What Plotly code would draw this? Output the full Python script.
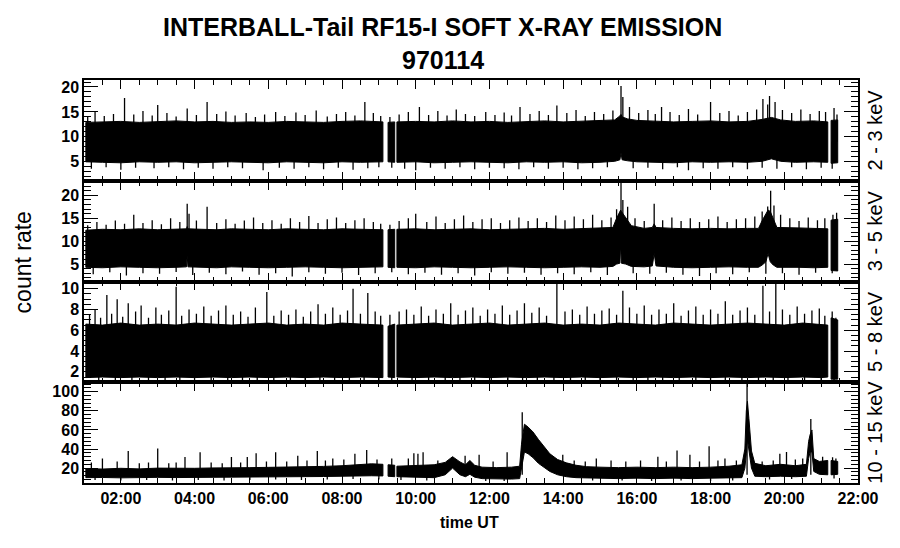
import plotly.graph_objects as go
from plotly.subplots import make_subplots

# x axis: hours UT
hour_ticks = [2, 4, 6, 8, 10, 12, 14, 16, 18, 20, 22]
hour_labels = ["02:00", "04:00", "06:00", "08:00", "10:00", "12:00",
               "14:00", "16:00", "18:00", "20:00", "22:00"]
channels = ["2 - 3 keV", "3 - 5 keV", "5 - 8 keV", "10 - 15 keV"]

# ---- 2-3 keV: band envelope (None = data gap) and single spikes
t1 = [1.05, 1.5, 2.0, 2.5, 3.0, 3.5, 4.0, 4.5, 5.0, 5.5, 6.0, 6.5, 7.0, 7.5, 8.0, 8.5, 9.11, None,
      9.25, 9.43, None,
      9.49, 10.0, 10.5, 11.0, 11.5, 12.0, 12.5, 13.0, 13.5, 14.0, 14.5, 15.0, 15.4, 15.54, 15.57, 15.6,
      15.75, 16.0, 16.5, 17.0, 17.5, 18.0, 18.5, 19.0, 19.4, 19.65, 19.9, 20.3, 20.8, 21.18, None,
      21.27, 21.45]
hi1 = [12.9, 13.0, 13.1, 12.9, 13.1, 13.2, 13.0, 13.1, 12.9, 13.0, 12.9, 13.1, 13.0, 12.9, 13.1, 13.2, 13.0, None,
       12.9, 13.0, None,
       13.0, 13.1, 13.0, 13.2, 13.0, 13.1, 12.9, 13.1, 13.2, 13.0, 13.1, 13.2, 13.4, 14.2, 14.5, 14.0,
       13.6, 13.3, 13.1, 13.0, 13.1, 13.2, 13.0, 13.1, 13.5, 13.9, 13.4, 13.1, 13.2, 13.0, None,
       13.3, 13.4]
lo1 = [5.0, 4.9, 4.8, 5.0, 4.9, 5.0, 4.8, 4.9, 5.0, 4.9, 4.8, 5.0, 4.9, 4.8, 5.0, 4.9, 5.0, None,
       5.0, 4.9, None,
       4.9, 5.0, 4.8, 4.9, 5.0, 4.9, 4.8, 5.0, 4.9, 5.0, 4.8, 4.9, 5.1, 5.4, 6.8, 5.4,
       5.2, 5.0, 4.9, 4.8, 5.0, 4.9, 5.0, 4.9, 5.1, 5.6, 5.1, 4.9, 5.0, 4.9, None,
       4.7, 4.8]
up1_t = [1.1, 1.3, 1.55, 1.8, 2.1, 2.35, 2.6, 2.85, 3.0, 3.25,
         3.5, 3.8, 4.05, 4.34, 4.6, 4.85, 5.1, 5.4, 5.65, 5.9,
         6.2, 6.45, 6.75, 7.0, 7.3, 7.6, 7.85, 8.1, 8.35, 8.62,
         8.85, 9.05, 9.3, 9.55, 9.8, 10.1, 10.35, 10.6, 10.85, 11.1,
         11.35, 11.6, 11.9, 12.15, 12.4, 12.6, 12.83, 13.1, 13.35, 13.6,
         13.83, 14.1, 14.35, 14.6, 14.85, 15.1, 15.35, 15.57, 15.62, 15.8,
         16.05, 16.3, 16.5, 16.67, 16.9, 17.15, 17.4, 17.65, 18.0, 18.25,
         18.5, 18.75, 19.0, 19.25, 19.42, 19.55, 19.6, 19.75, 19.95, 20.2,
         20.45, 20.7, 20.95, 21.12, 21.35, 21.43]
up1_v = [14.0, 15.0, 14.2, 14.6, 17.8, 14.5, 15.2, 14.3, 16.4, 14.8,
         14.1, 15.7, 14.4, 17.0, 14.6, 15.1, 14.3, 14.8, 14.0, 14.5,
         15.0, 14.2, 14.9, 14.4, 15.3, 14.1, 14.6, 15.0, 14.3, 17.0,
         14.8, 14.2, 14.0, 14.5, 15.0, 16.0, 14.4, 15.2, 14.3, 15.5,
         14.6, 14.2, 15.0, 14.4, 14.9, 14.3, 16.0, 14.6, 15.2, 14.4,
         16.3, 14.8, 15.4, 14.2, 15.0, 14.6, 15.3, 20.2, 18.0, 16.0,
         14.8, 15.4, 14.6, 16.0, 15.0, 14.4, 15.6, 14.5, 17.0, 14.8,
         15.2, 14.3, 15.0, 15.5, 17.6, 16.5, 18.2, 17.0, 15.4, 14.8,
         15.5, 14.6, 15.2, 15.0, 15.8, 14.5]
dn1_t = [1.2, 1.6, 2.0, 2.4, 2.9, 3.3, 3.7, 4.1, 4.5, 4.9,
         5.3, 5.86, 6.3, 6.7, 7.1, 7.5, 7.9, 8.3, 8.7, 9.0,
         9.35, 9.7, 10.0, 10.4, 10.8, 11.2, 11.6, 12.0, 12.4, 12.8,
         13.2, 13.6, 14.0, 14.4, 14.8, 15.2, 15.9, 16.3, 16.7, 17.1,
         17.4, 17.8, 18.2, 18.6, 19.0, 19.4, 19.8, 20.2, 20.6, 21.0, 21.3]
dn1_v = [3.6, 3.9, 3.4, 3.8, 3.7, 3.9, 3.5, 3.8, 3.6, 3.9,
         3.7, 3.3, 3.8, 3.6, 3.9, 3.5, 3.8, 3.4, 3.7, 3.9,
         3.8, 3.6, 3.3, 3.8, 3.6, 3.9, 3.5, 3.8, 3.7, 3.5,
         3.9, 3.6, 3.8, 3.5, 3.7, 3.9, 3.7, 3.8, 3.5, 3.9,
         3.3, 3.7, 3.6, 3.9, 3.5, 3.8, 3.6, 3.9, 3.5, 3.8, 3.6]

# ---- 3-5 keV
t2 = [1.05, 1.5, 2.0, 2.5, 3.0, 3.5, 3.78, 3.8, 3.82, 4.2, 4.6, 5.0, 5.5, 6.0, 6.5, 7.0, 7.5, 8.0, 8.5, 9.11, None,
      9.25, 9.43, None,
      9.49, 10.0, 10.5, 11.0, 11.5, 12.0, 12.5, 13.0, 13.5, 14.0, 14.5, 15.0, 15.35, 15.45, 15.54, 15.56, 15.58,
      15.7, 15.85, 16.2, 16.42, 16.47, 16.52, 17.0, 17.5, 18.0, 18.5, 19.0, 19.3, 19.4, 19.5, 19.56, 19.62,
      19.7, 19.8, 20.4, 20.8, 21.18, None,
      21.27, 21.45]
hi2 = [12.4, 12.6, 12.5, 12.7, 12.5, 12.6, 12.7, 13.2, 12.7, 12.6, 12.5, 12.7, 12.6, 12.5, 12.7, 12.6, 12.5, 12.7, 12.6, 12.5, None,
       12.5, 12.6, None,
       12.6, 12.7, 12.5, 12.6, 12.7, 12.5, 12.6, 12.7, 12.8, 12.6, 12.7, 12.8, 13.0, 15.0, 16.5, 16.8, 16.5,
       15.2, 13.4, 12.8, 13.0, 13.8, 13.0, 12.8, 12.7, 12.8, 12.7, 12.8, 12.8, 14.5, 16.0, 16.8, 16.5,
       15.0, 13.0, 12.9, 12.8, 12.7, None,
       14.6, 14.8]
lo2 = [4.3, 4.2, 4.4, 4.3, 4.2, 4.3, 4.4, 6.9, 4.4, 4.3, 4.2, 4.4, 4.3, 4.2, 4.3, 4.4, 4.3, 4.2, 4.3, 4.4, None,
       4.3, 4.2, None,
       4.3, 4.2, 4.4, 4.3, 4.2, 4.3, 4.4, 4.3, 4.2, 4.3, 4.4, 4.3, 4.5, 5.0, 5.2, 9.6, 5.2,
       5.0, 4.5, 4.4, 4.6, 7.3, 4.6, 4.3, 4.2, 4.3, 4.4, 4.3, 4.3, 4.8, 5.5, 7.3, 5.5,
       4.8, 4.3, 4.3, 4.2, 4.3, None,
       3.6, 3.5]
up2_t = [1.1, 1.35, 1.6, 1.85, 2.1, 2.35, 2.6, 2.85, 3.1, 3.35,
         3.6, 3.8, 3.85, 4.05, 4.34, 4.6, 4.85, 5.1, 5.35, 5.6,
         5.85, 6.1, 6.35, 6.6, 6.85, 7.1, 7.35, 7.6, 7.85, 8.1,
         8.35, 8.6, 8.85, 9.05, 9.3, 9.55, 9.8, 10.0, 10.3, 10.55,
         10.8, 11.05, 11.3, 11.55, 11.8, 12.05, 12.3, 12.55, 12.8, 13.05,
         13.3, 13.55, 13.8, 14.05, 14.3, 14.55, 14.8, 15.05, 15.3, 15.45,
         15.57, 15.62, 15.75, 15.95, 16.2, 16.47, 16.7, 16.95, 17.2, 17.45,
         17.7, 17.95, 18.2, 18.45, 18.7, 18.95, 19.2, 19.4, 19.55, 19.63,
         19.72, 19.9, 20.15, 20.4, 20.65, 20.9, 21.1, 21.32, 21.42]
up2_v = [13.5, 14.2, 13.6, 14.5, 13.8, 15.8, 14.0, 14.6, 13.7, 15.0,
         14.2, 18.2, 16.0, 14.5, 17.5, 14.0, 14.8, 13.8, 14.5, 15.2,
         14.0, 14.6, 13.8, 15.0, 14.2, 15.5, 14.0, 14.8, 15.2, 14.0,
         14.6, 15.0, 14.2, 13.8, 13.6, 14.4, 15.0, 16.0, 14.2, 15.4,
         14.0, 14.8, 15.6, 14.2, 14.8, 15.0, 14.0, 14.6, 15.2, 14.4,
         15.0, 14.2, 15.6, 14.6, 15.4, 14.8, 15.8, 14.6, 15.2, 17.0,
         22.8, 19.0, 17.5, 15.0, 14.4, 18.2, 14.6, 15.2, 14.4, 15.0,
         14.2, 14.8, 15.4, 14.2, 14.8, 15.0, 15.4, 16.5, 17.6, 21.0,
         17.8, 15.8, 15.0, 14.4, 15.2, 14.6, 15.0, 15.8, 16.2]
dn2_t = [1.25, 1.7, 2.15, 2.6, 3.05, 3.5, 3.95, 4.4, 4.85, 5.3,
         5.75, 6.2, 6.65, 7.1, 7.55, 8.0, 8.45, 8.9, 9.35, 9.8,
         10.25, 10.7, 11.15, 11.6, 12.05, 12.5, 12.95, 13.4, 13.85, 14.3,
         14.75, 15.2, 15.9, 16.35, 16.8, 17.25, 17.7, 18.15, 18.6, 19.05,
         19.5, 19.95, 20.4, 20.85, 21.3]
dn2_v = [2.8, 3.2, 2.5, 3.0, 2.9, 3.3, 2.6, 3.1, 2.8, 3.4,
         2.7, 3.0, 2.3, 3.2, 2.9, 3.1, 2.6, 3.0, 3.2, 2.8,
         3.1, 2.7, 3.0, 2.5, 3.2, 2.9, 3.1, 2.7, 3.0, 2.8,
         3.2, 2.6, 3.0, 2.9, 3.1, 2.7, 2.4, 3.0, 2.8, 3.2,
         2.9, 3.0, 2.7, 3.1, 3.0]

# ---- 5-8 keV
t3 = [1.05, 1.5, 2.0, 2.5, 3.0, 3.5, 4.0, 4.5, 5.0, 5.5, 6.0, 6.5, 7.0, 7.5, 8.0, 8.5, 9.11, None,
      9.25, 9.43, None,
      9.49, 10.0, 10.5, 11.0, 11.5, 12.0, 12.5, 13.0, 13.5, 14.0, 14.5, 15.0, 15.5, 16.0, 16.5, 17.0,
      17.5, 18.0, 18.5, 19.0, 19.5, 20.0, 20.5, 21.0, 21.18, None,
      21.27, 21.45]
hi3 = [6.6, 6.5, 6.7, 6.5, 6.6, 6.5, 6.7, 6.6, 6.5, 6.6, 6.7, 6.5, 6.6, 6.5, 6.7, 6.6, 6.5, None,
       6.4, 6.6, None,
       6.5, 6.6, 6.7, 6.5, 6.6, 6.7, 6.5, 6.6, 6.7, 6.5, 6.6, 6.5, 6.7, 6.6, 6.5, 6.7,
       6.6, 6.5, 6.6, 6.7, 6.6, 6.5, 6.7, 6.6, 6.5, None,
       7.2, 7.0]
lo3 = [1.45, 1.5, 1.45, 1.5, 1.45, 1.5, 1.45, 1.5, 1.45, 1.5, 1.45, 1.5, 1.45, 1.5, 1.45, 1.5, 1.45, None,
       1.5, 1.45, None,
       1.5, 1.45, 1.5, 1.45, 1.5, 1.45, 1.5, 1.45, 1.5, 1.45, 1.5, 1.45, 1.5, 1.45, 1.5, 1.45,
       1.5, 1.45, 1.5, 1.45, 1.5, 1.45, 1.5, 1.45, 1.5, None,
       1.3, 1.3]
up3_t = [1.15, 1.3, 1.45, 1.62, 1.75, 1.9, 2.05, 2.2, 2.4, 2.55,
         2.75, 2.95, 3.1, 3.3, 3.5, 3.65, 3.85, 4.05, 4.25, 4.45,
         4.65, 4.85, 5.05, 5.25, 5.45, 5.65, 5.96, 6.15, 6.35, 6.55,
         6.75, 6.95, 7.15, 7.35, 7.55, 7.75, 7.95, 8.15, 8.3, 8.5,
         8.7, 8.9, 9.05, 9.3, 9.55, 9.75, 9.95, 10.15, 10.35, 10.55,
         10.75, 10.95, 11.15, 11.35, 11.55, 11.75, 11.95, 12.15, 12.35, 12.55,
         12.75, 12.95, 13.15, 13.35, 13.55, 13.83, 14.05, 14.25, 14.45, 14.65,
         14.85, 15.05, 15.25, 15.45, 15.62, 15.8, 16.0, 16.2, 16.4, 16.6,
         16.8, 17.0, 17.2, 17.4, 17.6, 17.8, 18.0, 18.2, 18.4, 18.6,
         18.8, 19.0, 19.2, 19.42, 19.6, 19.77, 19.95, 20.15, 20.35, 20.55,
         20.75, 20.95, 21.1, 21.3, 21.4]
up3_v = [7.5, 8.0, 7.2, 9.4, 7.6, 9.0, 7.3, 8.6, 7.8, 8.4,
         7.2, 8.2, 7.5, 7.9, 10.2, 7.4, 8.0, 7.6, 8.3, 7.4,
         7.9, 8.4, 7.5, 7.8, 7.3, 8.2, 9.7, 7.4, 7.9, 7.5,
         8.0, 7.3, 7.8, 8.5, 7.6, 8.2, 7.5, 7.9, 10.0, 7.6,
         9.6, 7.8, 7.4, 7.5, 7.8, 8.0, 7.5, 8.3, 7.4, 8.0,
         7.6, 8.6, 7.5, 7.9, 8.2, 7.4, 8.0, 7.6, 8.4, 7.5,
         7.9, 8.6, 7.7, 8.2, 7.4, 10.5, 7.8, 8.0, 7.5, 8.3,
         7.6, 7.9, 8.1, 7.5, 9.8, 8.2, 7.6, 8.4, 7.5, 8.0,
         7.6, 8.6, 7.4, 7.9, 8.3, 7.5, 8.0, 7.6, 8.8, 7.5,
         7.9, 8.2, 7.5, 10.3, 7.8, 10.6, 8.0, 7.5, 8.3, 7.6,
         7.9, 8.1, 7.4, 7.8, 7.2]
dn3_t = [1.4, 1.85, 2.3, 2.75, 3.2, 3.6, 4.0, 4.45, 4.9, 5.3, 5.7, 6.15, 6.6, 7.0, 7.4, 7.8, 8.2, 8.6, 9.0,
         9.35, 9.9, 10.35, 10.8, 11.2, 11.6, 12.05, 12.5, 12.9, 13.3, 13.75, 14.2, 14.6, 15.0, 15.45,
         15.9, 16.3, 16.7, 17.15, 17.6, 18.0, 18.4, 18.85, 19.3, 19.7, 20.1, 20.55, 21.0, 21.35]
dn3_v = [1.05] * 48

# ---- 10-15 keV
t4 = [1.05, 1.5, 2.0, 2.5, 3.0, 3.5, 4.0, 4.5, 5.0, 5.5, 6.0, 6.5, 7.0, 7.5, 8.0, 8.5, 8.8, 9.11, None,
      9.25, 9.43, None,
      9.49, 9.8, 10.2, 10.5, 10.8, 11.0, 11.2, 11.35, 11.47, 11.6, 11.8, 12.2, 12.6, 12.82, 12.87, 12.95,
      13.05, 13.18, 13.33, 13.5, 13.64, 13.85, 14.09, 14.35, 14.64, 15.0, 15.5, 16.0, 16.5, 17.0, 17.5,
      18.0, 18.5, 18.85, 18.93, 18.97, 19.0, 19.04, 19.11, 19.2, 19.5, 19.9, 20.3, 20.6, 20.66, 20.7,
      20.75, 20.8, 20.95, 21.18, None,
      21.27, 21.45]
hi4 = [19.5, 19.0, 19.8, 19.2, 20.0, 19.5, 19.8, 20.2, 20.0, 20.5, 20.8, 21.0, 21.5, 21.8, 22.5, 23.5, 24.5, 24.0, None,
       23.5, 23.0, None,
       22.0, 22.5, 23.0, 23.5, 26.0, 32.0, 26.5, 23.5, 28.0, 23.0, 21.0, 20.5, 21.0, 22.0, 45.0, 66.0,
       63.0, 58.0, 50.0, 42.0, 35.0, 29.0, 25.5, 23.0, 21.5, 21.0, 20.5, 21.0, 20.5, 21.0, 20.5,
       21.0, 22.0, 23.5, 40.0, 80.0, 90.0, 72.0, 38.0, 25.0, 22.5, 24.0, 22.5, 24.0, 48.0, 55.0,
       60.0, 30.0, 27.0, 28.0, None,
       28.0, 27.0]
lo4 = [10.0, 10.2, 9.8, 10.0, 10.3, 10.1, 10.2, 10.4, 10.5, 10.6, 10.8, 11.0, 11.0, 11.2, 11.5, 11.6, 12.0, 11.8, None,
       11.5, 11.0, None,
       11.0, 11.0, 10.5, 10.0, 13.0, 20.0, 13.0, 11.0, 13.5, 10.5, 9.0, 8.5, 8.5, 9.0, 22.0, 37.0,
       35.0, 31.0, 25.0, 20.0, 16.5, 13.0, 11.0, 10.0, 9.5, 9.5, 9.0, 9.5, 9.0, 9.5, 9.0,
       9.5, 9.5, 10.0, 20.0, 35.0, 50.0, 42.0, 20.0, 11.5, 11.0, 11.5, 11.0, 11.5, 30.0, 37.0,
       37.0, 16.5, 13.5, 13.0, None,
       13.0, 13.5]
up4_t = [1.2, 1.5, 1.9, 2.2, 2.5, 2.75, 3.0, 3.3, 3.5, 3.74,
         4.15, 4.45, 4.75, 5.0, 5.25, 5.43, 5.67, 5.95, 6.2, 6.5,
         6.8, 7.05, 7.33, 7.55, 7.75, 8.05, 8.35, 8.67, 8.95, 9.35,
         9.8, 9.95, 10.06, 10.2, 10.6, 11.34, 11.72, 12.1, 12.48, 12.89,
         13.99, 14.3, 14.6, 14.9, 15.3, 15.7, 16.1, 16.57, 16.8, 17.09,
         17.44, 17.7, 17.96, 18.2, 18.39, 18.7, 18.99, 19.4, 19.7, 19.88,
         20.06, 20.3, 20.5, 20.72, 21.04, 21.31, 21.4]
up4_v = [26, 30, 27, 38, 25, 26, 40.6, 25, 26, 31.6,
         36.5, 26, 25, 31.6, 26, 31.6, 35.5, 27, 36.5, 27,
         33, 28, 38, 28, 30, 29, 35, 39, 29, 30,
         30, 35.5, 35, 36.5, 28, 33, 34, 27, 36.5, 78.5,
         34, 28, 27, 30, 28, 27, 28, 32, 27, 38.5,
         34, 27, 43, 28, 30, 28, 115, 27, 28, 35,
         37, 29, 30, 71.4, 32, 31.5, 30]
dn4_t = [1.3, 2.0, 2.7, 3.4, 4.1, 4.8, 5.5, 6.2, 6.9, 7.6, 8.3, 9.0, 9.6, 10.3, 11.9, 12.4,
         14.8, 15.6, 16.4, 17.2, 18.0, 18.6, 19.6, 20.2, 21.35]
dn4_v = [7.5, 7.0, 7.5, 7.0, 7.5, 7.0, 7.5, 8.0, 7.5, 8.0, 8.5, 8.0, 7.5, 7.0, 6.5, 6.5,
         7.0, 7.0, 6.5, 7.0, 6.5, 7.0, 8.0, 8.5, 9.0]


def band_polygon(t, lo, hi):
    # closed outline of each data segment: upper edge forward, lower edge back
    xs, ys = [], []
    seg = []
    for a, b, c in zip(t + [None], lo + [None], hi + [None]):
        if a is None:
            if seg:
                st = [s[0] for s in seg]
                sl = [s[1] for s in seg]
                sh = [s[2] for s in seg]
                xs += st + st[::-1] + [st[0], None]
                ys += sh + sl[::-1] + [sh[0], None]
            seg = []
        else:
            seg.append((a, b, c))
    return xs, ys


def spike_lines(times, vals, base):
    xs, ys = [], []
    for a, v in zip(times, vals):
        xs += [a, a, None]
        ys += [base, v, None]
    return xs, ys


panels = [
    (t1, lo1, hi1, up1_t, up1_v, dn1_t, dn1_v, 9),
    (t2, lo2, hi2, up2_t, up2_v, dn2_t, dn2_v, 8),
    (t3, lo3, hi3, up3_t, up3_v, dn3_t, dn3_v, 4),
    (t4, lo4, hi4, up4_t, up4_v, dn4_t, dn4_v, 13),
]
for p in panels:
    assert len(p[0]) == len(p[1]) == len(p[2])
    assert len(p[3]) == len(p[4]) and len(p[5]) == len(p[6])

fig = make_subplots(rows=4, cols=1, shared_xaxes=True, vertical_spacing=0)

for row, (t, lo, hi, ut, uv, dt, dv, base) in enumerate(panels, start=1):
    bx, by = band_polygon(t, lo, hi)
    fig.add_trace(go.Scatter(x=bx, y=by, mode="lines", fill="toself", fillcolor="black",
                             line=dict(color="black", width=1), hoverinfo="skip"), row=row, col=1)
    sx, sy = spike_lines(ut, uv, base)
    fig.add_trace(go.Scatter(x=sx, y=sy, mode="lines", line=dict(color="black", width=1.3),
                             hoverinfo="skip"), row=row, col=1)
    sx, sy = spike_lines(dt, dv, base)
    fig.add_trace(go.Scatter(x=sx, y=sy, mode="lines", line=dict(color="black", width=1.3),
                             hoverinfo="skip"), row=row, col=1)

tick_font = dict(family="Liberation Sans", size=16, color="black", weight="bold")

fig.update_xaxes(range=[1, 22], tickmode="array", tickvals=hour_ticks, ticktext=hour_labels,
                 ticks="inside", ticklen=9, tickwidth=1, tickcolor="black",
                 minor=dict(tickmode="linear", tick0=0, dtick=0.5, ticks="inside", ticklen=5,
                            tickwidth=1, tickcolor="black"),
                 showline=True, linecolor="black", linewidth=1.5, mirror="ticks",
                 showgrid=False, zeroline=False, tickfont=tick_font)

y_ranges = [[1.2, 21.4], [1.2, 23.2], [1.0, 10.7], [4.4, 110]]
y_dtick = [5, 5, 2, 20]
y_minor = [1, 1, 0.5, 4]
for row in range(1, 5):
    fig.update_yaxes(range=y_ranges[row - 1], tickmode="linear", tick0=0, dtick=y_dtick[row - 1],
                     ticks="inside", ticklen=14, tickwidth=1, tickcolor="black",
                     minor=dict(tickmode="linear", tick0=0, dtick=y_minor[row - 1], ticks="inside",
                                ticklen=7, tickwidth=1, tickcolor="black"),
                     showline=True, linecolor="black", linewidth=1.5, mirror="ticks",
                     showgrid=False, zeroline=False, tickfont=tick_font, row=row, col=1)

annotations = [
    dict(text="<b>INTERBALL-Tail RF15-I SOFT X-RAY EMISSION</b>", x=0.4638, y=1.1315,
         font=dict(size=25)),
    dict(text="<b>970114</b>", x=0.4638, y=1.0496, font=dict(size=25)),
    dict(text="count rate", x=-0.0785, y=0.548, textangle=-90, font=dict(size=23)),
    dict(text="<b>time UT</b>", x=0.4987, y=-0.0968, font=dict(size=16)),
]
for i, label in enumerate(channels):
    annotations.append(dict(text=label, x=1.022, y=0.875 - 0.25 * i, textangle=-90,
                            font=dict(size=20)))
for a in annotations:
    a.update(xref="paper", yref="paper", showarrow=False, xanchor="center", yanchor="middle",
             borderpad=0)
    a["font"].update(family="Liberation Sans", color="black")

# the page body adds an 8 px offset, so the figure is 8 px smaller than the window
fig.update_layout(
    width=892, height=540,
    margin=dict(l=76, r=42, t=72, b=65),
    paper_bgcolor="white", plot_bgcolor="white",
    showlegend=False,
    annotations=annotations,
)

fig.write_html("out.html")
